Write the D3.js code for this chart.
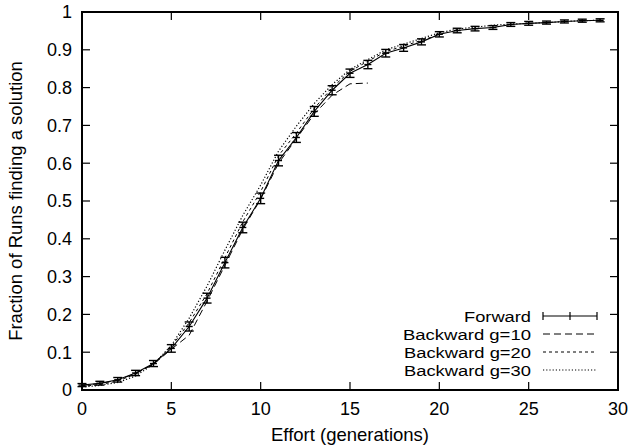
<!DOCTYPE html>
<html><head><meta charset="utf-8">
<script src="https://cdn.jsdelivr.net/npm/d3@7"></script>
<style>body{margin:0;background:#fff}text{font-family:"Liberation Sans",Arial,sans-serif;fill:#000}</style>
</head><body>
<svg id="c" width="629" height="447"></svg>
<script>
const xTicks = [0,5,10,15,20,25,30];
const yTicks = [0,0.1,0.2,0.3,0.4,0.5,0.6,0.7,0.8,0.9,1];
const yTickLabels = ["0","0.1","0.2","0.3","0.4","0.5","0.6","0.7","0.8","0.9","1"];
const forward = [0.013,0.018,0.027,0.045,0.07,0.11,0.168,0.243,0.337,0.43,0.507,0.607,0.668,0.737,0.793,0.838,0.861,0.891,0.905,0.921,0.941,0.951,0.956,0.959,0.967,0.970,0.972,0.975,0.977,0.978];
const forwardErr = [0.004,0.005,0.006,0.007,0.008,0.01,0.012,0.013,0.014,0.014,0.014,0.014,0.013,0.013,0.012,0.011,0.011,0.01,0.009,0.008,0.007,0.006,0.006,0.005,0.005,0.005,0.004,0.004,0.004,0.004];
const g10 = [0.012,0.017,0.026,0.044,0.068,0.108,0.145,0.235,0.33,0.425,0.505,0.6,0.665,0.73,0.78,0.81,0.812];
const g20 = [0.01,0.014,0.024,0.042,0.07,0.115,0.178,0.255,0.35,0.445,0.525,0.62,0.68,0.745,0.8,0.843,0.87,0.895,0.91,0.925,0.94];
const g30 = [0.008,0.012,0.02,0.037,0.068,0.118,0.19,0.275,0.37,0.462,0.542,0.632,0.698,0.758,0.808,0.848,0.874,0.9,0.915,0.93,0.945,0.955,0.96,0.965,0.968,0.97,0.972,0.975,0.977,0.978];
const legendLabels = ["Forward","Backward g=10","Backward g=20","Backward g=30"];

const svg = d3.select("#c");
const L=82,R=618,T=12,B=390;
const x = d3.scaleLinear().domain([0,30]).range([L,R]);
const y = d3.scaleLinear().domain([0,1]).range([B,T]);
const fs = 18;

const tl = 8;
const g = svg.append("g");
xTicks.forEach(v=>{
  g.append("line").attr("x1",x(v)).attr("x2",x(v)).attr("y1",B).attr("y2",B-tl).attr("stroke","#000").attr("stroke-width",1.2);
  g.append("line").attr("x1",x(v)).attr("x2",x(v)).attr("y1",T).attr("y2",T+tl).attr("stroke","#000").attr("stroke-width",1.2);
  g.append("text").attr("x",x(v)).attr("y",B+25).attr("text-anchor","middle").attr("font-size",fs).text(v);
});
yTicks.forEach((v,i)=>{
  g.append("line").attr("x1",L).attr("x2",L+tl).attr("y1",y(v)).attr("y2",y(v)).attr("stroke","#000").attr("stroke-width",1.2);
  g.append("line").attr("x1",R).attr("x2",R-tl).attr("y1",y(v)).attr("y2",y(v)).attr("stroke","#000").attr("stroke-width",1.2);
  g.append("text").attr("x",72).attr("y",y(v)).attr("dy","0.35em").attr("text-anchor","end").attr("font-size",fs).text(yTickLabels[i]);
});
svg.append("text").attr("x",350).attr("y",441).attr("text-anchor","middle").attr("font-size",18.5).text("Effort (generations)");
svg.append("text").attr("transform",`translate(22,${(T+B)/2}) rotate(-90)`).attr("text-anchor","middle").attr("font-size",18.5).text("Fraction of Runs finding a solution");

const line = d3.line().x((d,i)=>x(i)).y(d=>y(d));
const styles = [
  {data:g10, dash:"7,4", w:1},
  {data:g20, dash:"3,3", w:1},
  {data:g30, dash:"1.2,2", w:1.2},
];
styles.forEach(s=>{
  svg.append("path").attr("d",line(s.data)).attr("fill","none").attr("stroke","#000").attr("stroke-width",s.w).attr("stroke-dasharray",s.dash);
});
svg.append("path").attr("d",line(forward)).attr("fill","none").attr("stroke","#000").attr("stroke-width",1.1);
const cap=4.5;
forward.forEach((v,i)=>{
  const e=forwardErr[i], cx=x(i);
  const gg = svg.append("g").attr("stroke","#000").attr("stroke-width",1.4);
  gg.append("line").attr("x1",cx).attr("x2",cx).attr("y1",y(v-e)).attr("y2",y(v+e));
  gg.append("line").attr("x1",cx-cap).attr("x2",cx+cap).attr("y1",y(v-e)).attr("y2",y(v-e));
  gg.append("line").attr("x1",cx-cap).attr("x2",cx+cap).attr("y1",y(v+e)).attr("y2",y(v+e));
  gg.append("line").attr("x1",cx-3.5).attr("x2",cx+3.5).attr("y1",y(v)).attr("y2",y(v));
});

// legend
const ly=[316,334,352,370];
const lw=[67,128,127,127];
legendLabels.forEach((t,i)=>{
  svg.append("text").attr("x",531-lw[i]).attr("y",ly[i]).attr("dy","0.36em").attr("font-size",15.5)
    .attr("textLength",lw[i]).attr("lengthAdjust","spacingAndGlyphs").text(t);
});
const lg = svg.append("g").attr("stroke","#000");
lg.append("line").attr("x1",543).attr("x2",597).attr("y1",ly[0]).attr("y2",ly[0]).attr("stroke-width",1.1);
[543,597].forEach(xx=>lg.append("line").attr("x1",xx).attr("x2",xx).attr("y1",ly[0]-4).attr("y2",ly[0]+4).attr("stroke-width",1.2));
lg.append("line").attr("x1",570).attr("x2",570).attr("y1",ly[0]-4).attr("y2",ly[0]+4).attr("stroke-width",1.2);
styles.forEach((s,i)=>{
  lg.append("line").attr("x1",543).attr("x2",597).attr("y1",ly[i+1]).attr("y2",ly[i+1]).attr("stroke-width",s.w).attr("stroke-dasharray",s.dash);
});

svg.append("rect").attr("x",L).attr("y",T).attr("width",R-L).attr("height",B-T).attr("fill","none").attr("stroke","#000").attr("stroke-width",2);
</script>
</body></html>
